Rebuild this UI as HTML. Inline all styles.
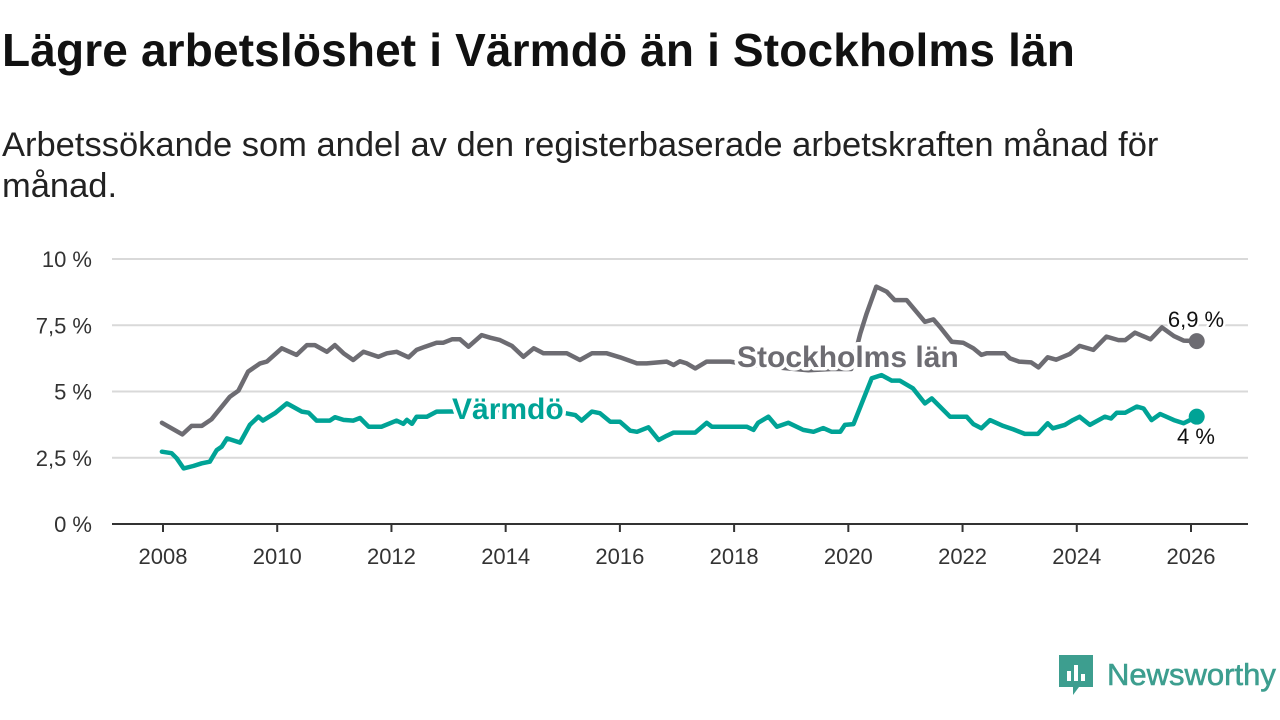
<!DOCTYPE html>
<html><head><meta charset="utf-8"><style>
body{margin:0;width:1280px;height:720px;background:#fff;overflow:hidden;font-family:"Liberation Sans",sans-serif;}
h1{position:absolute;left:2px;top:23px;margin:0;font-size:46px;font-weight:bold;color:#111;letter-spacing:0.15px;white-space:nowrap}
p.sub{position:absolute;left:2px;top:125px;margin:0;font-size:34.5px;line-height:41px;color:#222;width:1200px}
svg{position:absolute;left:0;top:0}
</style></head><body>
<h1>Lägre arbetslöshet i Värmdö än i Stockholms län</h1>
<p class="sub">Arbetssökande som andel av den registerbaserade arbetskraften månad för månad.</p>
<svg id="chart" width="1280" height="720"></svg>
<script>
const yTicks=[0,2.5,5,7.5,10];
const yTickLabels=["0 %","2,5 %","5 %","7,5 %","10 %"];
const xTicks=[2008,2010,2012,2014,2016,2018,2020,2022,2024,2026];
const sthlmDates=[2007.98,2008.34,2008.5,2008.68,2008.85,2009.17,2009.32,2009.49,2009.7,2009.82,2010.08,2010.34,2010.52,2010.66,2010.87,2011.01,2011.16,2011.33,2011.51,2011.77,2011.92,2012.09,2012.3,2012.44,2012.59,2012.79,2012.91,2013.06,2013.2,2013.35,2013.58,2013.73,2013.9,2014.11,2014.31,2014.49,2014.66,2015.07,2015.3,2015.51,2015.77,2016.0,2016.3,2016.47,2016.82,2016.94,2017.05,2017.17,2017.32,2017.52,2017.93,2018.3,2018.8,2019.3,2019.7,2020.05,2020.21,2020.32,2020.49,2020.67,2020.81,2021.02,2021.34,2021.49,2021.6,2021.81,2022.01,2022.19,2022.33,2022.42,2022.74,2022.83,2022.99,2023.2,2023.33,2023.49,2023.64,2023.88,2024.05,2024.29,2024.52,2024.73,2024.85,2025.02,2025.29,2025.49,2025.7,2025.87,2026.1];
const sthlmValues=[3.82,3.38,3.7,3.7,3.95,4.8,5.03,5.75,6.06,6.13,6.63,6.38,6.75,6.75,6.5,6.75,6.44,6.19,6.5,6.31,6.44,6.5,6.29,6.57,6.69,6.84,6.84,6.97,6.97,6.69,7.13,7.03,6.94,6.72,6.31,6.63,6.44,6.44,6.19,6.44,6.44,6.29,6.06,6.06,6.13,6.0,6.14,6.06,5.87,6.13,6.13,6.0,5.9,5.8,5.85,5.85,7.19,7.94,8.96,8.77,8.45,8.45,7.63,7.72,7.45,6.88,6.84,6.63,6.38,6.44,6.44,6.25,6.13,6.1,5.91,6.29,6.2,6.42,6.72,6.57,7.07,6.94,6.94,7.22,6.97,7.42,7.09,6.92,6.9];
const varmdoDates=[2007.98,2008.15,2008.24,2008.36,2008.53,2008.68,2008.82,2008.94,2009.03,2009.12,2009.35,2009.52,2009.67,2009.75,2009.96,2010.17,2010.43,2010.55,2010.69,2010.92,2011.01,2011.16,2011.33,2011.45,2011.6,2011.83,2012.09,2012.21,2012.27,2012.36,2012.44,2012.62,2012.79,2013.3,2013.9,2014.5,2015.0,2015.22,2015.33,2015.51,2015.65,2015.83,2016.0,2016.18,2016.3,2016.5,2016.68,2016.82,2016.94,2017.32,2017.52,2017.61,2018.22,2018.34,2018.42,2018.6,2018.75,2018.95,2019.21,2019.39,2019.56,2019.71,2019.86,2019.94,2020.09,2020.41,2020.58,2020.76,2020.9,2021.13,2021.34,2021.46,2021.78,2022.07,2022.19,2022.33,2022.48,2022.71,2022.89,2023.09,2023.32,2023.49,2023.58,2023.79,2023.93,2024.05,2024.23,2024.49,2024.6,2024.7,2024.85,2025.05,2025.17,2025.31,2025.46,2025.7,2025.87,2026.1];
const varmdoValues=[2.73,2.67,2.48,2.1,2.19,2.29,2.35,2.79,2.92,3.23,3.07,3.74,4.05,3.9,4.18,4.55,4.24,4.2,3.9,3.9,4.03,3.93,3.9,4.0,3.67,3.67,3.9,3.78,3.93,3.78,4.05,4.05,4.24,4.25,4.3,4.3,4.2,4.11,3.9,4.24,4.18,3.86,3.86,3.52,3.48,3.65,3.17,3.33,3.45,3.45,3.82,3.67,3.67,3.55,3.82,4.05,3.67,3.82,3.55,3.48,3.62,3.48,3.48,3.74,3.77,5.5,5.62,5.41,5.41,5.12,4.55,4.74,4.05,4.05,3.77,3.61,3.92,3.7,3.57,3.4,3.4,3.8,3.61,3.74,3.92,4.05,3.74,4.05,3.98,4.2,4.2,4.43,4.36,3.92,4.15,3.92,3.8,4.05];
const NS="http://www.w3.org/2000/svg";
const svg=document.getElementById('chart');
const X=y=>163+(y-2008)*(1191-163)/18;
const Y=v=>524-v*26.5;
function mk(tag,attrs,parent){const e=document.createElementNS(NS,tag);for(const k in attrs)e.setAttribute(k,attrs[k]);(parent||svg).appendChild(e);return e;}
yTicks.forEach((t,i)=>{
  if(t>0){const g=mk('line',{x1:112,x2:1248,y1:Y(t),y2:Y(t),stroke:'#d9d9d9','stroke-width':2});
  
  }
  const l=mk('text',{x:92,y:Y(t)+8,'text-anchor':'end','font-size':22,fill:'#333'});
  l.textContent=yTickLabels[i];
  
  
});
const ax=mk('line',{x1:112,x2:1248,y1:524,y2:524,stroke:'#333','stroke-width':2});


xTicks.forEach(t=>{
  const tk=mk('line',{x1:X(t),x2:X(t),y1:524,y2:532,stroke:'#333','stroke-width':2});
  
  
  const l=mk('text',{x:X(t),y:564,'text-anchor':'middle','font-size':22,fill:'#333'});
  l.textContent=t;
  
  
});
function series(dates,vals,color,name){
  const d=dates.map((t,i)=>(i?'L':'M')+X(t).toFixed(1)+','+Y(vals[i]).toFixed(1)).join('');
  const p=mk('path',{d:d,fill:'none',stroke:color,'stroke-width':4.5,'stroke-linejoin':'round','stroke-linecap':'round'});
  
  
  const n=dates.length-1;
  const c=mk('circle',{cx:X(dates[n]),cy:Y(vals[n]),r:8,fill:color});
  
  
}
series(sthlmDates,sthlmValues,'#6d6c72','stockholm');
series(varmdoDates,varmdoValues,'#00a396','varmdo');
function label(txt,x,y,color,size,bold,name,anchor){
  const t=mk('text',{x:x,y:y,'font-size':size,'font-weight':bold?'bold':'normal',fill:color,stroke:'#fff','stroke-width':bold?7:5,'paint-order':'stroke','stroke-linejoin':'round','text-anchor':anchor||'start'});
  t.textContent=txt;
  
  
}
label('Stockholms län',737,367,'#6d6c72',30,true,'stockholm-label');
label('Värmdö',452,419,'#00a396',30,true,'varmdo-label');
const nS=sthlmValues.length-1, nV=varmdoValues.length-1;
label(sthlmValues[nS].toString().replace('.',',')+' %',1196,327,'#111',22,false,'stockholm-end-value','middle');
label(varmdoValues[nV].toFixed(0)+' %',1196,444,'#111',22,false,'varmdo-end-value','middle');
</script>
<div style="position:absolute;left:1059px;top:655px;display:flex;align-items:center">
<svg width="34" height="40" viewBox="0 0 34 40" style="position:static">
<path d="M0 0H34V32H20L14 40V32H0Z" fill="#3d9e8f"/>
<rect x="8" y="16" width="4" height="10" fill="#fff"/><rect x="15" y="10" width="4" height="16" fill="#fff"/><rect x="22" y="19" width="4" height="7" fill="#fff"/>
</svg>
<span style="margin-left:14px;font-size:31px;color:#3d9e8f;font-family:'Liberation Sans',sans-serif;-webkit-text-stroke:0.6px #3d9e8f">Newsworthy</span>
</div>
</body></html>
